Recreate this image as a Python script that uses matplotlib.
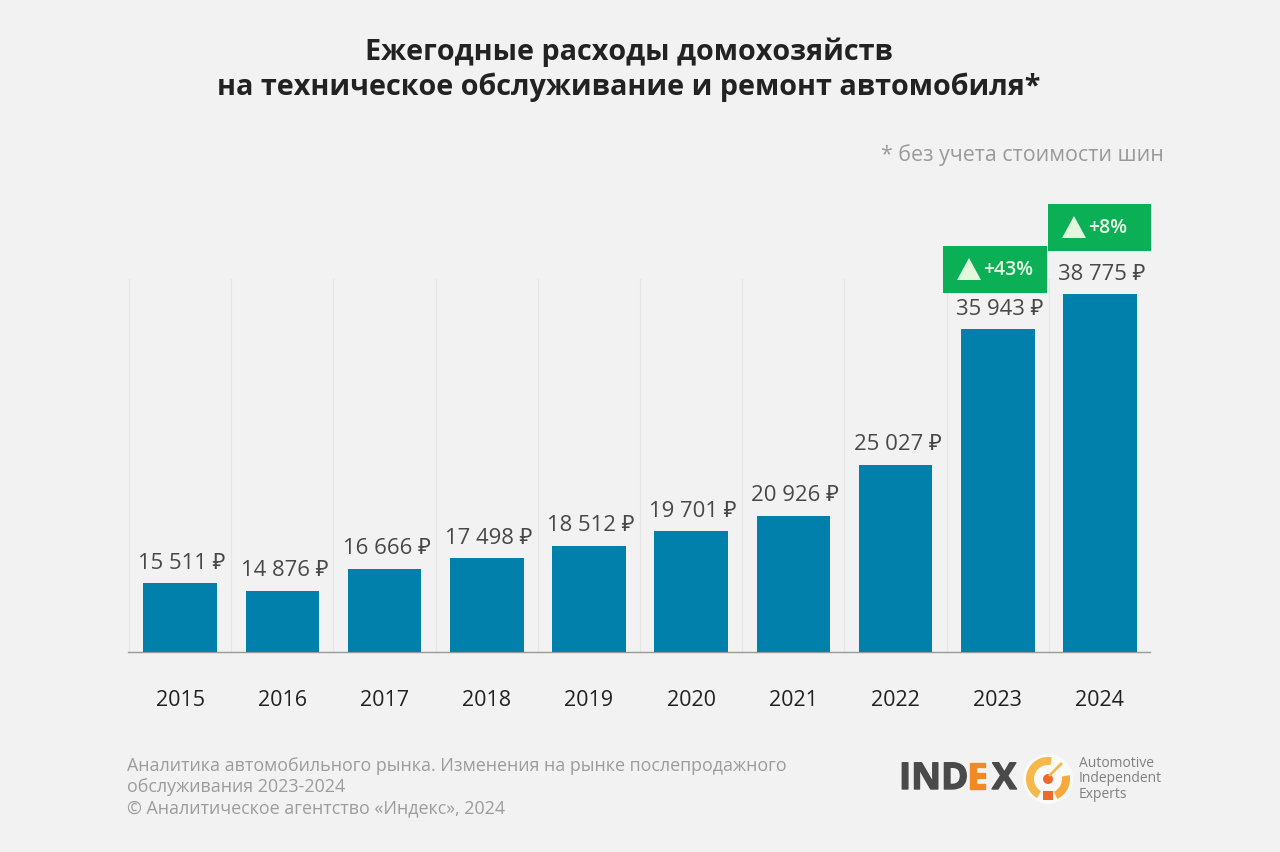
import matplotlib
matplotlib.use('Agg')
import matplotlib.pyplot as plt
import matplotlib.patheffects as pe
from matplotlib.patches import Rectangle, Polygon, Circle, Wedge

plt.rcParams['font.family'] = ['Open Sans', 'Noto Sans', 'DejaVu Sans']

years = ['2015', '2016', '2017', '2018', '2019', '2020', '2021', '2022', '2023', '2024']
values = [15511, 14876, 16666, 17498, 18512, 19701, 20926, 25027, 35943, 38775]
growth = {8: '+43%', 9: '+8%'}

title = 'Ежегодные расходы домохозяйств\nна техническое обслуживание и ремонт автомобиля*'
note = '* без учета стоимости шин'
source = ('Аналитика автомобильного рынка. Изменения на рынке послепродажного\n'
          'обслуживания 2023-2024\n© Аналитическое агентство «Индекс», 2024')

bg = '#F2F2F2'
blue = '#0080AA'
green = '#0BAF56'
dark = '#484848'
W, H = 1280, 853

fig = plt.figure(figsize=(12.8, 8.53), dpi=100, facecolor=bg)

# bars, y axis starts near 10000 in the original
ax = fig.add_axes([128 / W, 1 - 653 / H, (1150 - 128) / W, (653 - 280) / H], facecolor=bg)
ax.bar(range(len(values)), values, width=0.72, color=blue, zorder=3)
ax.set_xlim(-0.51, 9.49)
ax.set_ylim(9956, 39990)
ax.set_yticks([])
ax.set_xticks(range(len(years)))
ax.set_xticklabels(years, fontsize=15.5, color='#222222')
ax.tick_params(axis='x', length=0, pad=26.7)
for s in ['top', 'right', 'left']:
    ax.spines[s].set_visible(False)
ax.spines['bottom'].set_color('#9A9A9A')
ax.spines['bottom'].set_linewidth(1)
for i in range(len(values)):
    ax.axvline(i - 0.5, color='#E6E6E6', lw=0.9, zorder=1)

for i, v in enumerate(values):
    label = f'{v:,}'.replace(',', ' ') + ' ₽'
    ax.annotate(label, (i, v), xytext=(1.5, 7.5), textcoords='offset points', ha='center',
                va='bottom', fontsize=15.9, color=dark, zorder=4, annotation_clip=False)

# overlay in pixel coordinates for the text and badges
ov = fig.add_axes([0, 0, 1, 1], facecolor='none')
ov.set_xlim(0, W)
ov.set_ylim(H, 0)
ov.axis('off')

ov.text(629, 69.5, title, ha='center', va='center', fontsize=20.7, fontweight='bold',
        color='#222222', linespacing=1.25)
ov.text(1164, 155, note, ha='right', va='center', fontsize=15.4, color='#9A9A9A')
ov.text(127, 787, source, ha='left', va='center', fontsize=12.9, color='#9C9C9C', linespacing=1.22)

badges = {8: (943, 247, 104, 47), 9: (1048, 205, 103, 47)}
for i, txt in growth.items():
    x, y, w, h = badges[i]
    ov.add_patch(Rectangle((x, y), w, h, color=green, lw=0))
    ov.add_patch(Polygon([(x + 14, y + 34), (x + 38, y + 34), (x + 26, y + 12)], color='#E3F7DC', lw=0))
    ov.text(x + 40, y + 23, txt, ha='left', va='center', fontsize=14, fontweight='semibold', color='#E8FAE6')

# logo
heavy = [pe.withStroke(linewidth=1, foreground='#4A4A4A')]
heavy_e = [pe.withStroke(linewidth=1, foreground='#F08A24')]
ov.text(899, 780, 'IND', ha='left', va='center', fontsize=26.5, fontweight='bold', color='#4A4A4A', path_effects=heavy)
ov.text(967, 780, 'E', ha='left', va='center', fontsize=26.5, fontweight='bold', color='#F08A24', path_effects=heavy_e)
ov.text(992, 780, 'X', ha='left', va='center', fontsize=26.5, fontweight='bold', color='#4A4A4A', path_effects=heavy)
ov.add_patch(Circle((1048, 780), 25, color='#FAFAFA', lw=0))
ov.add_patch(Wedge((1048, 780), 22, 120, 280, width=8, color='#F7B84B', lw=0))
ov.add_patch(Wedge((1048, 780), 22, 350, 65, width=8, color='#F7A93B', lw=0))
ov.add_patch(Rectangle((1043, 792), 10, 9, color='#EE6A2C', lw=0))
ov.add_patch(Circle((1048, 780), 5, color='#EE6A2C', lw=0))
ov.plot([1050, 1061], [776, 765], color='#F7B84B', lw=2)
ov.text(1079, 779, 'Automotive\nIndependent\nExperts', ha='left', va='center', fontsize=10,
        color='#808080', linespacing=1.05)

fig.savefig('out.png', dpi=100, facecolor=bg)
